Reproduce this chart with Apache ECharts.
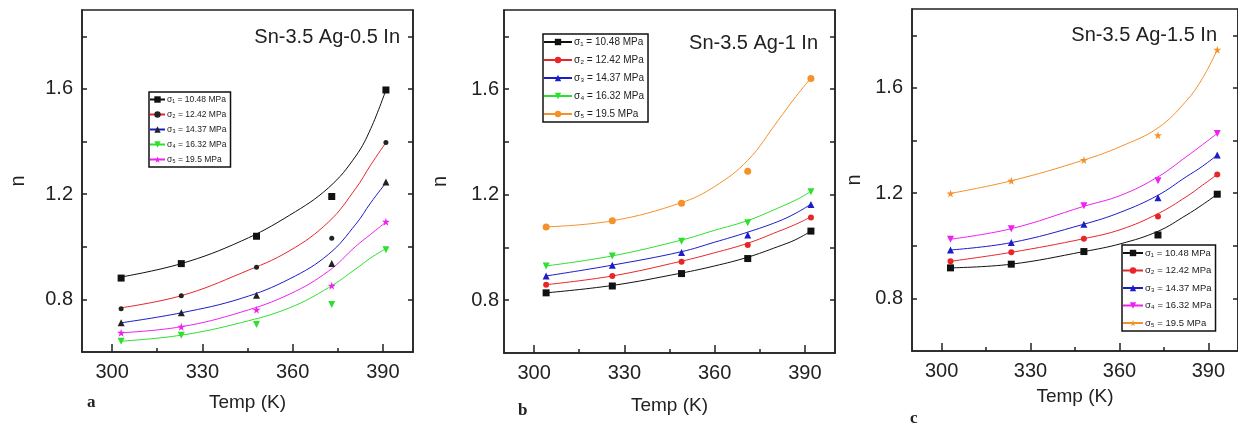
<!DOCTYPE html>
<html>
<head>
<meta charset="utf-8">
<script src="https://cdn.jsdelivr.net/npm/echarts@6/dist/echarts.min.js"></script>
<style>
  html, body { margin: 0; padding: 0; background: #fff; }
  #chart { width: 1238px; height: 423px; }
</style>
</head>
<body>
<div id="chart"></div>
<script>
// measured points: temperatures (K) for each panel
const tempA = [303, 323, 348, 373, 391]
const tempB = [304, 326, 349, 371, 392]
const tempC = [303, 323.5, 348, 373, 393]

// panel a : Sn-3.5 Ag-0.5 In
const nA1 = [0.881, 0.936, 1.040, 1.191, 1.596]
const nA2 = [0.764, 0.814, 0.922, 1.032, 1.396]
const nA3 = [0.711, 0.749, 0.816, 0.936, 1.246]
const nA4 = [0.641, 0.664, 0.705, 0.781, 0.989]
const nA5 = [0.673, 0.696, 0.761, 0.852, 1.095]

// panel b : Sn-3.5 Ag-1 In
const nB1 = [0.828, 0.854, 0.901, 0.958, 1.062]
const nB2 = [0.859, 0.892, 0.946, 1.009, 1.114]
const nB3 = [0.892, 0.933, 0.981, 1.047, 1.163]
const nB4 = [0.930, 0.968, 1.024, 1.094, 1.211]
const nB5 = [1.078, 1.101, 1.168, 1.289, 1.640]

// panel c : Sn-3.5 Ag-1.5 In
const nC1 = [0.916, 0.930, 0.978, 1.041, 1.196]
const nC2 = [0.941, 0.975, 1.027, 1.111, 1.271]
const nC3 = [0.984, 1.012, 1.082, 1.183, 1.345]
const nC4 = [1.025, 1.065, 1.152, 1.247, 1.427]
const nC5 = [1.199, 1.247, 1.326, 1.420, 1.745]

// fitted curves
const fitTA = [303, 323, 343, 359, 372, 381, 386, 391]
const fitA1 = [0.885, 0.936, 1.022, 1.120, 1.225, 1.345, 1.450, 1.596]
const fitA2 = [0.768, 0.814, 0.900, 0.985, 1.095, 1.222, 1.312, 1.396]
const fitA3 = [0.711, 0.749, 0.804, 0.878, 0.972, 1.086, 1.168, 1.243]
const fitA4 = [0.641, 0.664, 0.712, 0.768, 0.845, 0.916, 0.958, 0.993]
const fitA5 = [0.673, 0.696, 0.752, 0.820, 0.908, 1.002, 1.048, 1.094]

const fitTB = [304, 326, 349, 360, 371, 381, 387, 392]
const fitB1 = [0.828, 0.856, 0.903, 0.930, 0.963, 1.003, 1.030, 1.062]
const fitB2 = [0.859, 0.892, 0.948, 0.980, 1.016, 1.060, 1.088, 1.116]
const fitB3 = [0.892, 0.933, 0.984, 1.020, 1.058, 1.098, 1.130, 1.164]
const fitB4 = [0.930, 0.968, 1.028, 1.065, 1.102, 1.149, 1.180, 1.212]
const fitB5 = [1.078, 1.101, 1.170, 1.231, 1.330, 1.480, 1.572, 1.642]

const fitTC = [303, 323.5, 348, 360.5, 373, 382.5, 388, 393]
const fitC1 = [0.916, 0.930, 0.978, 1.008, 1.055, 1.116, 1.156, 1.196]
const fitC2 = [0.941, 0.975, 1.027, 1.062, 1.122, 1.186, 1.230, 1.271]
const fitC3 = [0.984, 1.012, 1.082, 1.128, 1.192, 1.262, 1.302, 1.345]
const fitC4 = [1.025, 1.065, 1.150, 1.192, 1.262, 1.338, 1.384, 1.427]
const fitC5 = [1.199, 1.247, 1.326, 1.378, 1.448, 1.550, 1.636, 1.745]

const legendText = ['σ₁ = 10.48 MPa', 'σ₂ = 12.42 MPa', 'σ₃ = 14.37 MPa', 'σ₄ = 16.32 MPa', 'σ₅ = 19.5 MPa']
const panelTitles = ['Sn-3.5 Ag-0.5 In', 'Sn-3.5 Ag-1 In', 'Sn-3.5 Ag-1.5 In']

const xMajor = [300, 330, 360, 390]
const xMinor = [315, 345, 375]
const yTicks = [0.8, 1.0, 1.2, 1.4, 1.6, 1.8]
const yLabels = [0.8, 1.2, 1.6]

const STAR = 'path://M50,0 L61,35 L98,35 L68,57 L79,91 L50,70 L21,91 L32,57 L2,35 L39,35 Z'
const axisColor = '#222'
const font = 'Liberation Sans, Arial, sans-serif'

const chart = echarts.init(document.getElementById('chart'))

const grids = [
  { left: 82, top: 10, width: 331, height: 342 },
  { left: 504, top: 10, width: 331, height: 343 },
  { left: 912, top: 9, width: 331, height: 342 }
]
const labelMargin = [9, 5, 9]
const yNameGap = [54, 54, 48]
const xNameGap = [41, 43, 36]

const xAxis = []
const yAxis = []
grids.forEach((g, i) => {
  xAxis.push({
    type: 'value', gridIndex: i, min: 290, max: 400, position: 'bottom',
    name: 'Temp (K)', nameLocation: 'middle', nameGap: xNameGap[i],
    nameTextStyle: { fontSize: 19, color: axisColor, fontFamily: font },
    axisLine: { show: true, lineStyle: { color: axisColor, width: 1.5 } },
    axisTick: { show: true, inside: true, length: 8, customValues: xMajor, lineStyle: { color: axisColor, width: 1.5 } },
    axisLabel: { customValues: xMajor, margin: 10, fontSize: 20, color: axisColor, fontFamily: font },
    splitLine: { show: false }
  })
  // short minor ticks
  xAxis.push({
    type: 'value', gridIndex: i, min: 290, max: 400, position: 'bottom',
    axisLine: { show: false },
    axisTick: { show: true, inside: true, length: 4, customValues: xMinor, lineStyle: { color: axisColor, width: 1.5 } },
    axisLabel: { show: false },
    splitLine: { show: false }
  })
  yAxis.push({
    type: 'value', gridIndex: i, min: 0.6, max: 1.9, position: 'left',
    name: 'n', nameLocation: 'middle', nameGap: yNameGap[i],
    nameTextStyle: { fontSize: 20, color: axisColor, fontFamily: font },
    axisLine: { show: true, lineStyle: { color: axisColor, width: 1.5 } },
    axisTick: { show: true, inside: true, length: 5, customValues: yTicks, lineStyle: { color: axisColor, width: 1.5 } },
    axisLabel: { customValues: yLabels, margin: labelMargin[i], fontSize: 20, color: axisColor, fontFamily: font, formatter: v => v.toFixed(1) },
    splitLine: { show: false }
  })
  yAxis.push({
    type: 'value', gridIndex: i, min: 0.6, max: 1.9, position: 'right',
    axisLine: { show: true, lineStyle: { color: axisColor, width: 1.5 } },
    axisTick: { show: true, inside: true, length: 5, customValues: yTicks, lineStyle: { color: axisColor, width: 1.5 } },
    axisLabel: { show: false },
    splitLine: { show: false }
  })
})

const C = { black: '#111', red: '#e8262a', blue: '#1c1cc8', green: '#2ee02e', magenta: '#ee22ee', orange: '#f5912b' }

// fitted curve (also carries the legend icon) + scatter of the measured points
function curve(name, panel, fitT, fit, temps, vals, color, symbol, opts) {
  opts = opts || {}
  const mark = opts.mark || color
  const size = opts.size || 6
  const rotate = opts.rotate || 0
  return [
    {
      name: name,
      type: 'line',
      xAxisIndex: panel * 2,
      yAxisIndex: panel * 2,
      data: fitT.map((t, k) => [t, fit[k]]),
      smooth: 0.4,
      symbol: symbol,
      symbolSize: size,
      symbolRotate: rotate,
      showSymbol: false,
      lineStyle: { color: color, width: 1 },
      itemStyle: { color: mark },
      z: 2
    },
    {
      name: name + '-pts',
      type: 'scatter',
      xAxisIndex: panel * 2,
      yAxisIndex: panel * 2,
      data: temps.map((t, k) => [t, vals[k]]),
      symbol: symbol,
      symbolSize: size,
      symbolRotate: rotate,
      itemStyle: { color: mark, opacity: 1 },
      z: 3
    }
  ]
}

const series = [].concat(
  curve('a1', 0, fitTA, fitA1, tempA, nA1, C.black, 'rect', { size: 7 }),
  curve('a2', 0, fitTA, fitA2, tempA, nA2, C.red, 'circle', { size: 5, mark: '#222' }),
  curve('a3', 0, fitTA, fitA3, tempA, nA3, C.blue, 'triangle', { size: 7, mark: '#222' }),
  curve('a4', 0, fitTA, fitA4, tempA, nA4, C.green, 'triangle', { size: 7, rotate: 180 }),
  curve('a5', 0, fitTA, fitA5, tempA, nA5, C.magenta, STAR, { size: 8 }),

  curve('b1', 1, fitTB, fitB1, tempB, nB1, C.black, 'rect', { size: 7 }),
  curve('b2', 1, fitTB, fitB2, tempB, nB2, C.red, 'circle', { size: 6 }),
  curve('b3', 1, fitTB, fitB3, tempB, nB3, C.blue, 'triangle', { size: 7 }),
  curve('b4', 1, fitTB, fitB4, tempB, nB4, C.green, 'triangle', { size: 7, rotate: 180 }),
  curve('b5', 1, fitTB, fitB5, tempB, nB5, C.orange, 'circle', { size: 7 }),

  curve('c1', 2, fitTC, fitC1, tempC, nC1, C.black, 'rect', { size: 7 }),
  curve('c2', 2, fitTC, fitC2, tempC, nC2, C.red, 'circle', { size: 6 }),
  curve('c3', 2, fitTC, fitC3, tempC, nC3, C.blue, 'triangle', { size: 7 }),
  curve('c4', 2, fitTC, fitC4, tempC, nC4, C.magenta, 'triangle', { size: 7, rotate: 180 }),
  curve('c5', 2, fitTC, fitC5, tempC, nC5, C.orange, STAR, { size: 8 })
)

function legend(prefix, pos, itemWidth, itemGap, fontSize) {
  return Object.assign({
    orient: 'vertical',
    data: [1, 2, 3, 4, 5].map(k => prefix + k),
    formatter: name => legendText[+name.slice(1) - 1],
    itemWidth: itemWidth,
    itemHeight: 8,
    itemGap: itemGap,
    padding: [3, 4, 3, 0],
    borderColor: '#111',
    borderWidth: 1.5,
    backgroundColor: '#fff',
    selectedMode: false,
    textStyle: { fontSize: fontSize, color: '#222', fontFamily: font, padding: [0, 0, 0, -3] }
  }, pos)
}

const titlePos = [
  { x: 400, y: 37 },
  { x: 818, y: 43 },
  { x: 1217, y: 35 }
]
const letters = [
  { t: 'a', x: 87, y: 403 },
  { t: 'b', x: 518, y: 411 },
  { t: 'c', x: 910, y: 419 }
]

const graphic = []
titlePos.forEach((p, i) => {
  graphic.push({
    type: 'text', x: p.x, y: p.y,
    style: { text: panelTitles[i], fontSize: 20, fontFamily: font, fill: '#222', align: 'right', verticalAlign: 'middle' }
  })
})
letters.forEach(l => {
  graphic.push({
    type: 'text', x: l.x, y: l.y,
    style: { text: l.t, fontSize: 17, fontWeight: 'bold', fontFamily: 'Liberation Serif, Times New Roman, serif', fill: '#222', verticalAlign: 'middle' }
  })
})

const option = {
  animation: false,
  backgroundColor: '#fff',
  grid: grids.map(g => Object.assign({ show: true, borderColor: axisColor, borderWidth: 1.5, backgroundColor: 'transparent' }, g)),
  xAxis: xAxis,
  yAxis: yAxis,
  legend: [
    legend('a', { left: 149, top: 92 }, 15, 6, 8.5),
    legend('b', { left: 543, top: 34 }, 28, 8, 10),
    legend('c', { left: 1122, top: 245 }, 20, 7.5, 9.5)
  ],
  graphic: graphic,
  series: series
}

chart.setOption(option)
</script>
</body>
</html>
